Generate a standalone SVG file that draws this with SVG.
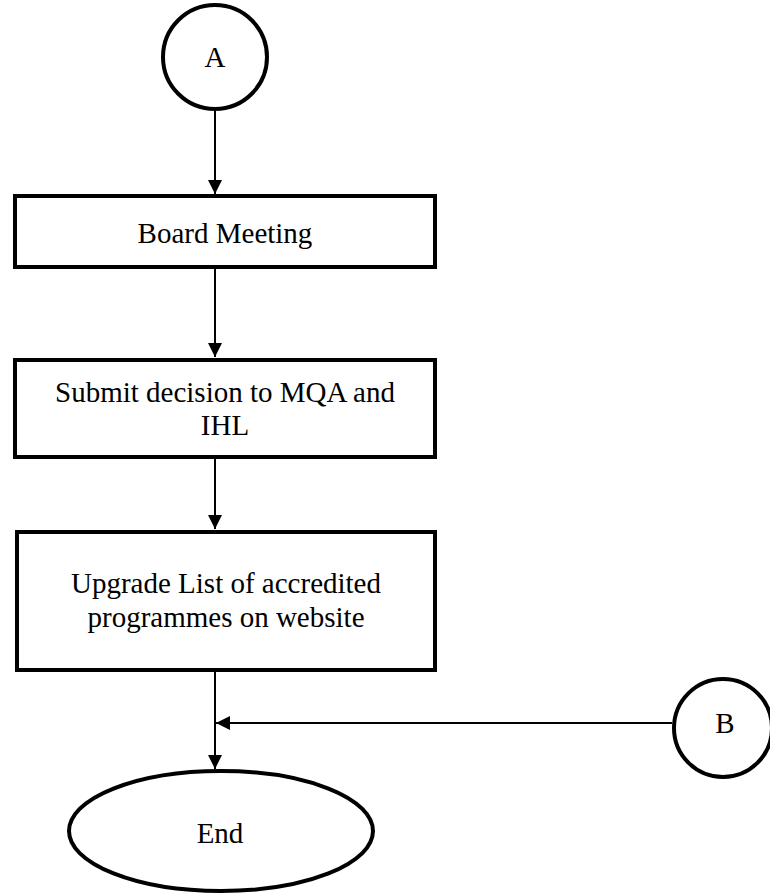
<svg xmlns="http://www.w3.org/2000/svg" width="770" height="894" viewBox="0 0 770 894">
<defs>
<style>
.shape{fill:#fff;stroke:#000;stroke-width:4}
.line{fill:none;stroke:#000;stroke-width:2}
.head{fill:#000;stroke:none}
text{font-family:"Liberation Serif","Times New Roman",serif;font-size:29px;fill:#000;text-anchor:middle}
</style>
<marker id="arr" viewBox="0 0 14 14" refX="14" refY="7" markerWidth="14" markerHeight="14" markerUnits="userSpaceOnUse" orient="auto">
<path d="M0,0 L14,7 L0,14 Z" class="head"/>
</marker>
</defs>
<g id="connectors">
<line class="line" x1="215" y1="111" x2="215" y2="194" marker-end="url(#arr)"/>
<line class="line" x1="215" y1="269" x2="215" y2="357" marker-end="url(#arr)"/>
<line class="line" x1="215" y1="459" x2="215" y2="529" marker-end="url(#arr)"/>
<line class="line" x1="215" y1="672" x2="215" y2="769" marker-end="url(#arr)"/>
<line class="line" x1="672" y1="723" x2="216" y2="723" marker-end="url(#arr)"/>
</g>
<g id="nodeA">
<circle class="shape" cx="215" cy="57" r="52"/>
<text x="215" y="67">A</text>
</g>
<g id="board">
<rect class="shape" x="15" y="196" width="420" height="71"/>
<text x="225" y="243">Board Meeting</text>
</g>
<g id="submit">
<rect class="shape" x="15" y="360" width="420" height="97"/>
<text x="225" y="402">Submit decision to MQA and</text>
<text x="225" y="435">IHL</text>
</g>
<g id="upgrade">
<rect class="shape" x="17" y="532" width="418" height="138"/>
<text x="226" y="593">Upgrade List of accredited</text>
<text x="226" y="627">programmes on website</text>
</g>
<g id="nodeB">
<circle class="shape" cx="723" cy="728" r="49"/>
<text x="725" y="733">B</text>
</g>
<g id="end">
<ellipse class="shape" cx="221" cy="831" rx="152" ry="60"/>
<text x="220" y="843">End</text>
</g>
</svg>
